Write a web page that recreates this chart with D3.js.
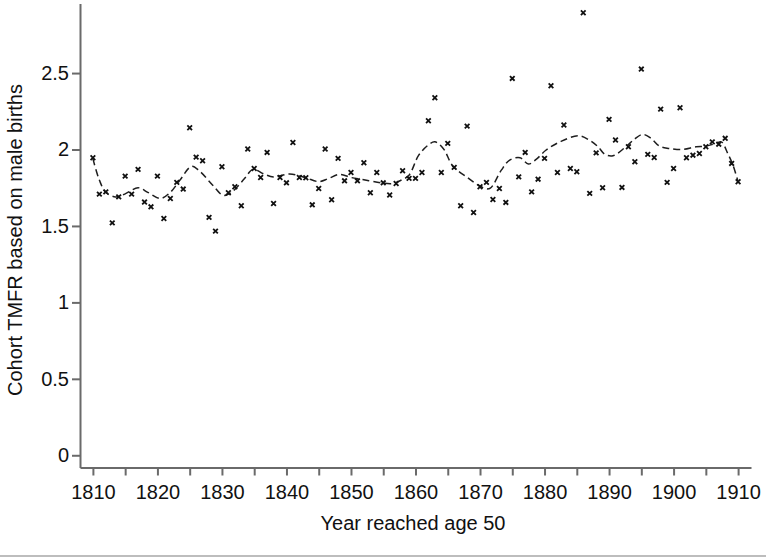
<!DOCTYPE html>
<html>
<head>
<meta charset="utf-8">
<script src="https://cdn.jsdelivr.net/npm/d3@7/dist/d3.min.js"></script>
<style>
  body { margin: 0; background: #fff; }
  #canvas { width: 766px; height: 557px; }
  text { font-family: "Liberation Sans", Arial, sans-serif; fill: #111; }
  .axis path, .axis line { stroke: #6a6a6a; stroke-width: 2; }
  .axis text { font-size: 20px; fill: #111; }
</style>
</head>
<body>
<div id="canvas" class="canvas"></div>
<script>
// yearly cohort values
var years = d3.range(1810, 1911);
var tmfr = [
  1.946, 1.708, 1.723, 1.520, 1.690, 1.826, 1.708, 1.870, 1.656, 1.625,
  1.826, 1.549, 1.680, 1.785, 1.741, 2.142, 1.950, 1.926, 1.556, 1.466,
  1.887, 1.717, 1.756, 1.632, 2.003, 1.876, 1.817, 1.981, 1.647, 1.817,
  1.782, 2.046, 1.817, 1.815, 1.638, 1.745, 2.003, 1.671, 1.942, 1.795,
  1.850, 1.795, 1.913, 1.717, 1.850, 1.782, 1.702, 1.778, 1.861, 1.811,
  1.811, 1.850, 2.188, 2.339, 1.850, 2.040, 1.883, 1.632, 2.153, 1.588,
  1.756, 1.785, 1.673, 1.745, 1.654, 2.465, 1.821, 1.981, 1.723, 1.806,
  1.942, 2.417, 1.850, 2.160, 1.876, 1.854, 2.895, 1.713, 1.978, 1.750,
  2.197, 2.062, 1.752, 2.018, 1.920, 2.526, 1.968, 1.948, 2.264, 1.785,
  1.876, 2.273, 1.946, 1.963, 1.974, 2.018, 2.050, 2.035, 2.073, 1.909,
  1.789
];

// smoothed trend (dashed line)
var smoothYears = [
  1810, 1811, 1812, 1813.5, 1815, 1817, 1818.5, 1820.5, 1822, 1823.5,
  1825.3, 1826.5, 1828.5, 1830.2, 1831.5, 1833.5, 1834.8, 1836.5, 1838, 1840.5,
  1843, 1845, 1846.5, 1848.2, 1850, 1851.8, 1854.7, 1856.5, 1858, 1859,
  1860.5, 1862, 1863, 1864.3, 1865.8, 1867.9, 1870.2, 1871.5, 1873.3, 1874.6,
  1876.2, 1877.5, 1878.7, 1880.2, 1882.4, 1885.3, 1887, 1888.3, 1889.3, 1890.6,
  1892.6, 1893.9, 1895.2, 1896.5, 1897.8, 1899.3, 1901.4, 1903.5, 1905, 1906.6,
  1907.4, 1908.4, 1909.2, 1910
];
var smoothVals = [
  1.94, 1.80, 1.72, 1.69, 1.71, 1.75, 1.72, 1.68, 1.72, 1.80,
  1.89, 1.86, 1.77, 1.70, 1.72, 1.81, 1.87, 1.84, 1.82, 1.84,
  1.815, 1.79, 1.81, 1.837, 1.817, 1.804, 1.782, 1.778, 1.804, 1.832,
  1.963, 2.03, 2.05, 2.007, 1.891, 1.821, 1.756, 1.745, 1.865, 1.931,
  1.946, 1.905, 1.935, 1.995, 2.05, 2.09, 2.06, 2.018, 1.97, 1.959,
  2.018, 2.066, 2.099, 2.073, 2.022, 2.007, 2.0, 2.018, 2.022, 2.04,
  2.05, 1.974, 1.898, 1.789
];

var xTicks = d3.range(1810, 1911, 5);
var yTicks = [0, 0.5, 1, 1.5, 2, 2.5];

var outerWidth = 766, outerHeight = 557;

var svg = d3.select('.canvas')
    .append('svg')
    .attr('width', outerWidth)
    .attr('height', outerHeight);

var scaleX = d3.scaleLinear()
    .domain([1808, 1912])
    .range([80, 751]);

var scaleY = d3.scaleLinear()
    .domain([-0.08, 2.955])
    .range([467.5, 3.5]);

// axes
var axisX = d3.axisBottom(scaleX)
    .tickValues(xTicks)
    .tickSize(8)
    .tickSizeOuter(0)
    .tickFormat(function(d){ return d % 10 === 0 ? d : ''; });

var axisY = d3.axisLeft(scaleY)
    .tickValues(yTicks)
    .tickSize(8)
    .tickSizeOuter(0)
    .tickFormat(function(d){ return String(d); });

var gx = svg.append('g')
    .attr('class', 'axis axis-x')
    .attr('transform', 'translate(0,' + scaleY.range()[0] + ')')
    .call(axisX);
gx.selectAll('text').attr('dy', '1em');

var gy = svg.append('g')
    .attr('class', 'axis axis-y')
    .attr('transform', 'translate(' + scaleX.range()[0] + ',0)')
    .call(axisY);
gy.selectAll('text').attr('x', -11);

// smooth trend
var line = d3.line()
    .x(function(d){ return scaleX(d[0]); })
    .y(function(d){ return scaleY(d[1]); })
    .curve(d3.curveCatmullRom.alpha(0.5));

svg.append('path')
    .datum(d3.zip(smoothYears, smoothVals))
    .attr('d', line)
    .attr('fill', 'none')
    .attr('stroke', '#1e1e1e')
    .attr('stroke-width', 1.5)
    .attr('stroke-dasharray', '7,4');

// yearly points
var cross = d3.symbol().type(d3.symbolX).size(16);
svg.selectAll('.pt')
    .data(d3.zip(years, tmfr))
    .enter()
    .append('path')
    .attr('class', 'pt')
    .attr('d', cross)
    .attr('transform', function(d){ return 'translate(' + scaleX(d[0]) + ',' + scaleY(d[1]) + ')'; })
    .attr('fill', 'none')
    .attr('stroke', '#111')
    .attr('stroke-width', 1.8);

// axis titles
svg.append('text')
    .attr('x', 413)
    .attr('y', 530)
    .attr('text-anchor', 'middle')
    .style('font-size', '20px')
    .text('Year reached age 50');

svg.append('text')
    .attr('transform', 'translate(22,240) rotate(-90)')
    .attr('text-anchor', 'middle')
    .style('font-size', '20px')
    .text('Cohort TMFR based on male births');

// thin grey rule at the bottom of the figure
svg.append('line')
    .attr('x1', 0).attr('x2', outerWidth)
    .attr('y1', 556).attr('y2', 556)
    .attr('stroke', '#bdbdbd')
    .attr('stroke-width', 2);
</script>
</body>
</html>
